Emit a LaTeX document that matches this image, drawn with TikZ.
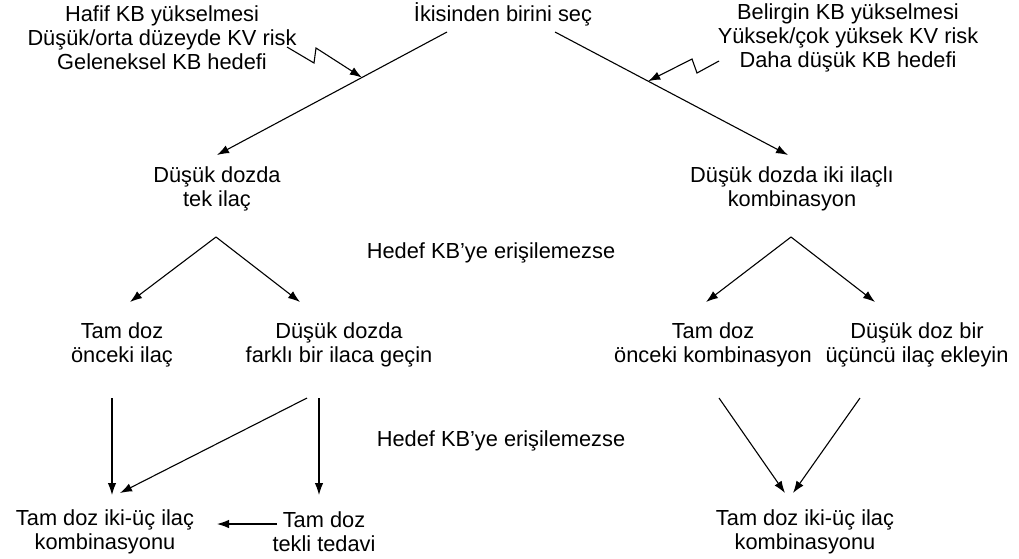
\documentclass[tikz,border=0pt]{standalone}
\usepackage{fontspec}
\setmainfont{Liberation Sans}
\usetikzlibrary{arrows.meta, calc}

\begin{document}
\begin{tikzpicture}[
    x=1pt, y=-1pt,
    txt/.style={align=center, inner sep=0pt, font=\fontsize{21.8}{24}\selectfont},
    arr/.style={-{Latex[length=12pt, width=8.5pt]}, line width=1.1pt},
    zig/.style={-{Latex[length=12pt, width=8.5pt]}, line width=1.1pt, line join=miter}
  ]
    \useasboundingbox (0,0) rectangle (1019,558);

    %% Top: choice and the two patient profiles
    \node[txt] (choose) at (503,14) {İkisinden birini seç};
    \node[txt] (lownote) at (162,38) {Hafif KB yükselmesi\\Düşük/orta düzeyde KV risk\\Geleneksel KB hedefi};
    \node[txt] (highnote) at (848,38) {Belirgin KB yükselmesi\\Yüksek/çok yüksek KV risk\\Daha düşük KB hedefi};

    %% Step 1
    \node[txt] (single) at (217,189) {Düşük dozda\\tek ilaç};
    \node[txt] (dual) at (792,189) {Düşük dozda iki ilaçlı\\kombinasyon};
    \node[txt] (fail1) at (491,253) {Hedef KB’ye erişilemezse};

    %% Step 2
    \node[txt] (fullsingle) at (122,345) {Tam doz\\önceki ilaç};
    \node[txt] (switch) at (339,345) {Düşük dozda\\farklı bir ilaca geçin};
    \node[txt] (fulldual) at (713,345) {Tam doz\\önceki kombinasyon};
    \node[txt] (third) at (917,345) {Düşük doz bir\\üçüncü ilaç ekleyin};
    \node[txt] (fail2) at (501,441) {Hedef KB’ye erişilemezse};

    %% Step 3
    \node[txt] (combL) at (105,532) {Tam doz iki-üç ilaç\\kombinasyonu};
    \node[txt] (mono) at (324,532) {Tam doz\\tekli tedavi};
    \node[txt] (combR) at (805,532) {Tam doz iki-üç ilaç\\kombinasyonu};

    %% Arrows from the choice
    \draw[arr] ($(choose)+(-56,18)$) -- coordinate[pos=0.37] (hitL) ($(single)+(0,-34)$);
    \draw[arr] ($(choose)+(52,18)$) -- coordinate[pos=0.40] (hitR) ($(dual)+(-4,-34)$);
    \draw[zig] ($(lownote)+(125,9)$) -- ++(27,16) -- ++(2,-15) -- (hitL);
    \draw[zig] ($(highnote)+(-129,23)$) -- ++(-22,12) -- ++(-5,-14) -- (hitR);

    %% Step 1 -> step 2
    \draw[arr] ($(single)+(-1,48)$) -- ($(fullsingle)+(8,-43)$);
    \draw[arr] ($(single)+(-1,48)$) -- ($(switch)+(-39,-43)$);
    \draw[arr] ($(dual)+(-1,48)$) -- ($(fulldual)+(-7,-43)$);
    \draw[arr] ($(dual)+(-1,48)$) -- ($(third)+(-42,-43)$);

    %% Step 2 -> step 3
    \draw[arr] ($(fullsingle)+(-10,53)$) -- ($(combL)+(7,-37)$);
    \draw[arr] ($(switch)+(-32,53)$) -- ($(combL)+(15,-39)$);
    \draw[arr] ($(switch)+(-20,53)$) -- ($(mono)+(-5,-37)$);
    \draw[arr] ($(mono)+(-47,-8)$) -- ($(combL)+(112,-8)$);
    \draw[arr] ($(fulldual)+(6,53)$) -- ($(combR)+(-20,-39)$);
    \draw[arr] ($(third)+(-57,53)$) -- ($(combR)+(-12,-39)$);
  \end{tikzpicture}
\end{document}
